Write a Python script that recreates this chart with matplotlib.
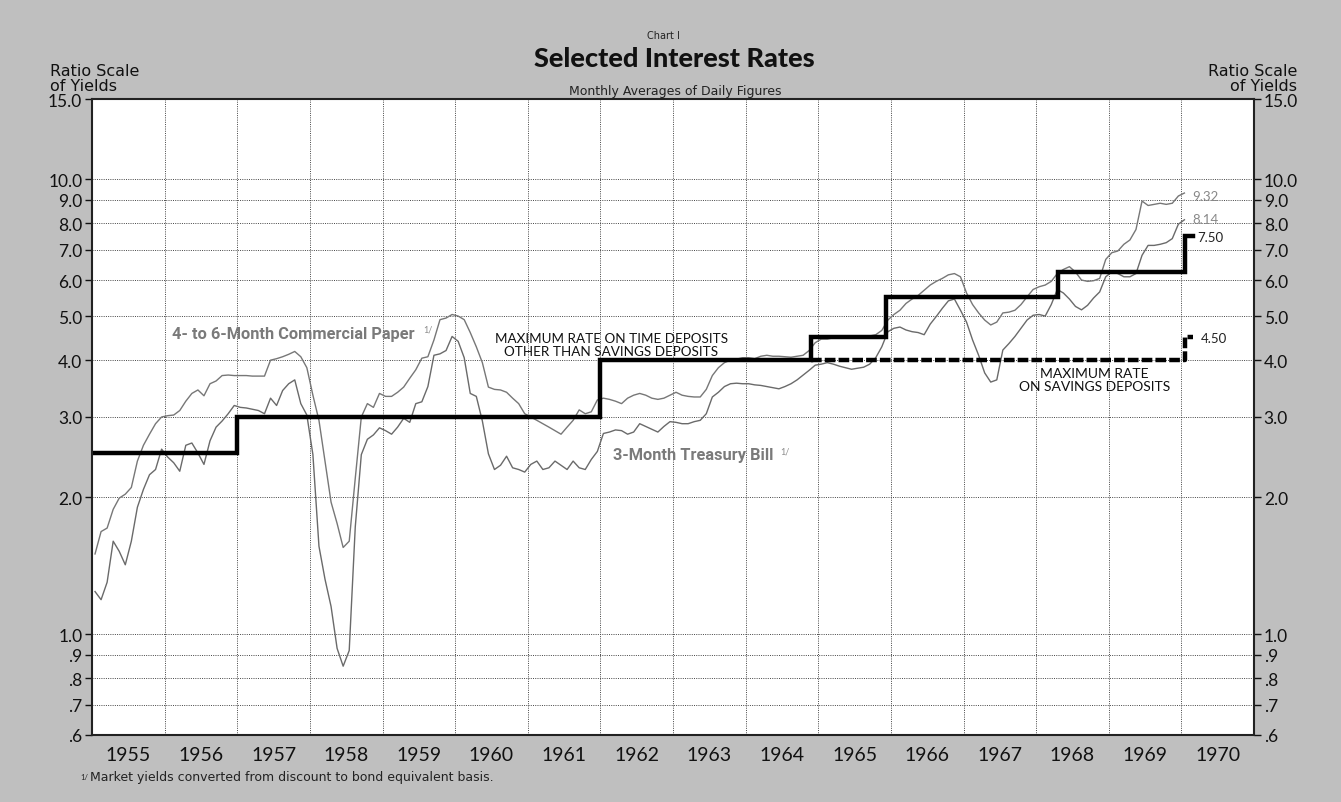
import matplotlib
matplotlib.use('Agg')
import matplotlib.pyplot as plt
import numpy as np
from matplotlib.ticker import NullLocator

plt.rcParams['font.family'] = ['Lato', 'DejaVu Sans']

# monthly averages, Jan 1955 .. Jan 1970 (bond equivalent yields, percent)
tbill_3m = [
    1.24, 1.19, 1.30, 1.60, 1.52, 1.42, 1.60, 1.90, 2.08, 2.24, 2.30, 2.55,  # 1955
    2.45, 2.38, 2.28, 2.60, 2.63, 2.50, 2.36, 2.66, 2.85, 2.94, 3.05, 3.18,  # 1956
    3.15, 3.14, 3.12, 3.10, 3.05, 3.30, 3.18, 3.43, 3.55, 3.62, 3.21, 3.03,  # 1957
    2.48, 1.56, 1.32, 1.15, 0.93, 0.85, 0.92, 1.72, 2.48, 2.68, 2.74, 2.84,  # 1958
    2.80, 2.75, 2.85, 2.98, 2.92, 3.21, 3.24, 3.50, 4.10, 4.13, 4.20, 4.51,  # 1959
    4.40, 4.05, 3.38, 3.33, 2.94, 2.49, 2.30, 2.35, 2.46, 2.32, 2.30, 2.27,  # 1960
    2.36, 2.40, 2.30, 2.32, 2.40, 2.35, 2.30, 2.40, 2.32, 2.30, 2.42, 2.52,  # 1961
    2.76, 2.78, 2.81, 2.80, 2.75, 2.78, 2.90, 2.86, 2.82, 2.78, 2.86, 2.93,  # 1962
    2.92, 2.90, 2.90, 2.93, 2.95, 3.05, 3.32, 3.40, 3.50, 3.55, 3.56, 3.55,  # 1963
    3.55, 3.53, 3.52, 3.50, 3.48, 3.46, 3.50, 3.55, 3.62, 3.71, 3.80, 3.90,  # 1964
    3.92, 3.95, 3.92, 3.88, 3.85, 3.82, 3.84, 3.86, 3.92, 4.05, 4.28, 4.62,  # 1965
    4.70, 4.73, 4.66, 4.62, 4.60, 4.55, 4.80, 4.99, 5.20, 5.40, 5.45, 5.15,  # 1966
    4.85, 4.43, 4.10, 3.75, 3.58, 3.62, 4.21, 4.35, 4.51, 4.70, 4.90, 5.02,  # 1967
    5.04, 5.00, 5.30, 5.72, 5.62, 5.45, 5.25, 5.16, 5.28, 5.48, 5.65, 6.10,  # 1968
    6.25, 6.20, 6.10, 6.10, 6.20, 6.80, 7.15, 7.15, 7.19, 7.25, 7.40, 7.96,  # 1969
    8.14,                                                                    # 1970
]

comm_paper = [
    1.50, 1.68, 1.71, 1.88, 1.99, 2.03, 2.10, 2.40, 2.60, 2.75, 2.90, 3.00,  # 1955
    3.02, 3.03, 3.10, 3.25, 3.38, 3.44, 3.34, 3.55, 3.60, 3.70, 3.71, 3.70,  # 1956
    3.70, 3.70, 3.69, 3.69, 3.69, 4.00, 4.03, 4.07, 4.12, 4.18, 4.07, 3.85,  # 1957
    3.35, 2.95, 2.40, 1.95, 1.75, 1.55, 1.60, 2.20, 3.00, 3.21, 3.15, 3.38,  # 1958
    3.33, 3.33, 3.40, 3.49, 3.65, 3.81, 4.04, 4.07, 4.43, 4.91, 4.95, 5.04,  # 1959
    5.00, 4.91, 4.60, 4.28, 3.95, 3.49, 3.45, 3.44, 3.40, 3.30, 3.21, 3.05,  # 1960
    3.00, 2.95, 2.90, 2.85, 2.80, 2.75, 2.85, 2.95, 3.11, 3.05, 3.08, 3.27,  # 1961
    3.30, 3.28, 3.25, 3.21, 3.30, 3.35, 3.38, 3.35, 3.30, 3.28, 3.30, 3.35,  # 1962
    3.40, 3.35, 3.33, 3.32, 3.32, 3.45, 3.70, 3.85, 3.95, 4.00, 4.02, 4.05,  # 1963
    4.05, 4.03, 4.08, 4.10, 4.08, 4.08, 4.07, 4.06, 4.08, 4.10, 4.20, 4.37,  # 1964
    4.45, 4.45, 4.48, 4.50, 4.50, 4.50, 4.50, 4.50, 4.52, 4.55, 4.65, 4.90,  # 1965
    5.04, 5.15, 5.33, 5.45, 5.55, 5.70, 5.85, 5.96, 6.05, 6.16, 6.20, 6.10,  # 1966
    5.62, 5.30, 5.08, 4.90, 4.78, 4.85, 5.08, 5.10, 5.15, 5.30, 5.51, 5.72,  # 1967
    5.80, 5.85, 5.96, 6.20, 6.33, 6.42, 6.25, 6.00, 5.96, 5.98, 6.05, 6.66,  # 1968
    6.89, 6.95, 7.19, 7.35, 7.75, 8.95, 8.75, 8.80, 8.85, 8.80, 8.85, 9.18,  # 1969
    9.32,                                                                    # 1970
]

# ceiling on time deposits other than savings (step changes)
time_dep_dates = [1955.0, 1957.0, 1962.0, 1964.9, 1965.93, 1968.3, 1970.05, 1970.16]
time_dep_rates = [2.5, 3.0, 4.0, 4.5, 5.5, 6.25, 7.5, 7.5]
# ceiling on savings deposits, shown separately once it splits off
sav_dep_dates = [1964.9, 1970.05, 1970.16]
sav_dep_rates = [4.0, 4.5, 4.5]

years = list(range(1955, 1971))
ytick_vals = [0.6, 0.7, 0.8, 0.9, 1.0, 2.0, 3.0, 4.0, 5.0, 6.0, 7.0, 8.0, 9.0, 10.0, 15.0]
ytick_labels = ['.6', '.7', '.8', '.9', '1.0', '2.0', '3.0', '4.0', '5.0', '6.0',
                '7.0', '8.0', '9.0', '10.0', '15.0']

W, H = 1341, 803
fig = plt.figure(figsize=(W / 100, H / 100), dpi=100, facecolor='#bfbfbf')
ax = fig.add_axes([92 / W, 67 / H, 1162 / W, 636 / H])
ax.set_facecolor('white')

x = 1955 + (np.arange(len(tbill_3m)) + 0.5) / 12
ax.plot(x, comm_paper, color='#777777', lw=1.0)
ax.plot(x, tbill_3m, color='#6a6a6a', lw=1.0)

ax.step(time_dep_dates, time_dep_rates, where='post', color='black', lw=3.2,
        solid_joinstyle='miter')
ax.step(sav_dep_dates, sav_dep_rates, where='post', color='black', lw=3.2,
        dashes=(2.4, 0.7))

ax.set_yscale('log')
ax.set_ylim(0.6, 15)
ax.set_xlim(1955, 1971)
ax.set_yticks(ytick_vals)
ax.set_yticklabels(ytick_labels)
ax.yaxis.set_minor_locator(NullLocator())
ax.tick_params(axis='y', which='major', left=True, right=True, labelright=True,
               length=5, width=1, labelsize=12.5, pad=2, colors='#111111')

ax.set_xticks(years[1:])
ax.set_xticklabels([])
ax.set_xticks([yr + 0.5 for yr in years], minor=True)
ax.set_xticklabels([str(yr) for yr in years], minor=True)
ax.tick_params(axis='x', which='major', length=0)
ax.tick_params(axis='x', which='minor', length=0, labelsize=14, pad=8, colors='#111111')

ax.grid(True, which='major', axis='both', color='#444444', lw=0.7, ls=(0, (1, 1.3)))
for sp in ax.spines.values():
    sp.set_linewidth(1.5)
    sp.set_color('#222222')

# series labels
narrow = ['Liberation Sans Narrow', 'Roboto', 'DejaVu Sans']
ax.text(1956.1, 4.57, '4- to 6-Month Commercial Paper', color='#7a7a7a', fontsize=11.8,
        fontweight='bold', va='center', ha='left', family=narrow)
ax.text(1959.56, 4.68, '1/', color='#8a8a8a', fontsize=6.5, va='center', ha='left')
ax.text(1962.17, 2.48, '3-Month Treasury Bill', color='#7a7a7a', fontsize=11.8,
        fontweight='bold', va='center', ha='left', family=narrow)
ax.text(1964.48, 2.53, '1/', color='#8a8a8a', fontsize=6.5, va='center', ha='left')

ax.text(1962.15, 4.33, 'MAXIMUM RATE ON TIME DEPOSITS\nOTHER THAN SAVINGS DEPOSITS',
        ha='center', va='center', fontsize=9.7, linespacing=1.1, color='#111111')
ax.text(1968.8, 3.62, 'MAXIMUM RATE\nON SAVINGS DEPOSITS', ha='center', va='center',
        fontsize=10, linespacing=1.1, color='#111111')

ax.text(1970.15, 9.2, '9.32', color='#888888', fontsize=9.5, va='center')
ax.text(1970.15, 8.17, '8.14', color='#888888', fontsize=9.5, va='center')
ax.text(1970.22, 7.45, '7.50', color='#222222', fontsize=9.5, va='center')
ax.text(1970.27, 4.47, '4.50', color='#222222', fontsize=9.5, va='center')

# titles and axis captions
dv = ['DejaVu Sans']
fig.text(663 / W, 1 - 36 / H, 'Chart I', ha='center', va='center', fontsize=7, color='#222222',
         family=dv)
fig.text(674 / W, 1 - 59 / H, 'Selected Interest Rates', ha='center', va='center',
         fontsize=19.5, fontweight='black', color='#111111')
fig.text(675 / W, 1 - 92 / H, 'Monthly Averages of Daily Figures', ha='center', va='center',
         fontsize=9, color='#222222', family=dv)
fig.text(50 / W, 1 - 79 / H, 'Ratio Scale\nof Yields', ha='left', va='center', fontsize=11.5,
         linespacing=0.95, color='#111111', family=dv)
fig.text(1297 / W, 1 - 79 / H, 'Ratio Scale\nof Yields', ha='right', va='center', fontsize=11.5,
         linespacing=0.95, color='#111111', multialignment='right', family=dv)
fig.text(80 / W, 1 - 778 / H, '1/', ha='left', va='center', fontsize=5.5, color='#222222')
fig.text(90 / W, 1 - 778 / H, 'Market yields converted from discount to bond equivalent basis.',
         ha='left', va='center', fontsize=9, color='#222222', family=dv)

fig.savefig('out.png', dpi=100, facecolor=fig.get_facecolor())
